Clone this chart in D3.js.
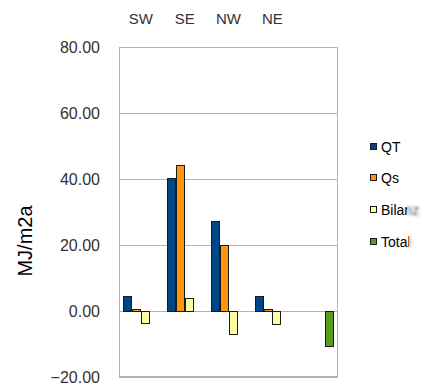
<!DOCTYPE html>
<html>
<head>
<meta charset="utf-8">
<script src="https://cdn.jsdelivr.net/npm/d3@7"></script>
<style>
  html, body { margin: 0; padding: 0; background: #fff; }
  svg { display: block; font-family: "Liberation Sans", Arial, sans-serif; }
</style>
</head>
<body>
<svg id="chart" width="437" height="385"></svg>
<script>
// Orientation groups (the last slot holds the overall total)
const categories = ["SW", "SE", "NW", "NE", ""];
const seriesNames = ["QT", "Qs", "Bilanz", "Total"];
const valuesQT     = [4.4, 40.4, 27.2, 4.4, null];
const valuesQs     = [0.7, 44.1, 20.0, 0.7, null];
const valuesBilanz = [-3.5, 3.9, -6.9, -3.8, null];
const valuesTotal  = [null, null, null, null, -10.6];
const yTicks = [-20, 0, 20, 40, 60, 80];
const yTitle = "MJ/m2a";

const seriesValues = [valuesQT, valuesQs, valuesBilanz, valuesTotal];
const colors = ["#004586", "#ff950e", "#ffffa0", "#579d1c"];

const svg = d3.select("#chart");
const plot = { left: 119, right: 338, top: 47, bottom: 377 };

const y = d3.scaleLinear().domain([-20, 80]).range([plot.bottom, plot.top]);
const x = d3.scaleBand().domain(categories).range([plot.left, plot.right]).padding(0);
const xs = d3.scaleBand().domain(seriesNames).range([0, x.bandwidth()])
  .paddingInner(0).paddingOuter(0.5);

// Horizontal gridlines
svg.append("g").selectAll("line").data(yTicks).join("line")
  .attr("x1", plot.left).attr("x2", plot.right)
  .attr("y1", d => Math.round(y(d)) + 0.5).attr("y2", d => Math.round(y(d)) + 0.5)
  .attr("stroke", "#b3b3b3").attr("stroke-width", 1);

// Plot frame
svg.append("rect")
  .attr("x", plot.left + 0.5).attr("y", plot.top + 0.5)
  .attr("width", plot.right - plot.left - 1).attr("height", plot.bottom - plot.top - 1)
  .attr("fill", "none").attr("stroke", "#b3b3b3");

// Y axis labels
const yAxis = d3.axisLeft(y).tickValues(yTicks).tickFormat(d3.format(".2f")).tickSize(0).tickPadding(0);
const yg = svg.append("g").attr("transform", `translate(${plot.left - 19},0)`).call(yAxis);
yg.select(".domain").remove();
yg.selectAll("text").attr("font-size", 16).attr("fill", "#333")
  .attr("font-family", "Liberation Sans, Arial, sans-serif");

// Category labels on top
const xAxis = d3.axisTop(x).tickSize(0).tickPadding(0);
const xg = svg.append("g").attr("transform", `translate(0,24)`).call(xAxis);
xg.select(".domain").remove();
xg.selectAll("text").attr("font-size", 15).attr("fill", "#333")
  .attr("font-family", "Liberation Sans, Arial, sans-serif");

// Y axis title
svg.append("text")
  .attr("transform", `translate(32,${(plot.top + plot.bottom) / 2 + 29}) rotate(-90)`)
  .attr("text-anchor", "middle").attr("font-size", 20).attr("fill", "#000")
  .text(yTitle);

// Bars
seriesNames.forEach((name, si) => {
  const pts = categories.map((c, ci) => ({ c, v: seriesValues[si][ci] })).filter(d => d.v !== null);
  svg.append("g").selectAll("rect").data(pts).join("rect")
    .attr("x", d => Math.round(x(d.c) + xs(name)) + 0.5)
    .attr("y", d => Math.round(y(Math.max(0, d.v))) + 0.5)
    .attr("width", Math.round(xs.bandwidth()) - 1)
    .attr("height", d => Math.max(1, Math.round(Math.abs(y(d.v) - y(0)))))
    .attr("fill", colors[si])
    .attr("stroke", "#1a1a1a").attr("stroke-width", 1);
});

// Legend
const defs = svg.append("defs");
defs.append("filter").attr("id", "soft").append("feGaussianBlur").attr("stdDeviation", 1.6);
const legendY = [147, 178, 210, 242];
const lg = svg.append("g");
seriesNames.forEach((name, i) => {
  lg.append("rect")
    .attr("x", 370.5).attr("y", legendY[i] - 3.5).attr("width", 6).attr("height", 6)
    .attr("fill", colors[i]).attr("stroke", "#1a1a1a");
  const cut = name === "Bilanz" ? 407 : (name === "Total" ? 409 : 437);
  defs.append("clipPath").attr("id", "lc" + i).append("rect")
    .attr("x", 360).attr("y", 0).attr("width", cut - 360).attr("height", 385);
  lg.append("text")
    .attr("x", 381).attr("y", legendY[i] + 5)
    .attr("font-size", 14).attr("fill", "#000")
    .attr("clip-path", `url(#lc${i})`)
    .text(name);
  if (cut < 437) {
    defs.append("clipPath").attr("id", "lr" + i).append("rect")
      .attr("x", cut).attr("y", 0).attr("width", 437 - cut).attr("height", 385);
    lg.append("g").attr("clip-path", `url(#lr${i})`)
      .append("text")
      .attr("x", 381).attr("y", legendY[i] + 5)
      .attr("font-size", 14).attr("fill", "#555")
      .attr("filter", "url(#soft)")
      .text(name);
  }
});
</script>
</body>
</html>
